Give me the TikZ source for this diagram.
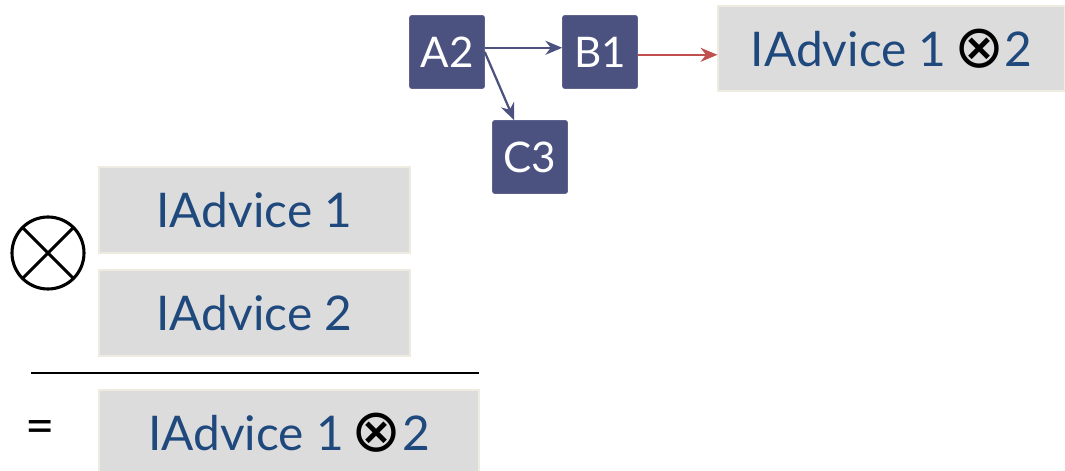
\documentclass[tikz,border=0pt]{standalone}
\usepackage{fontspec}
\setmainfont{Lato}
\newfontfamily\symfont{DejaVu Sans}
\usepackage{xcolor}
\usetikzlibrary{arrows.meta, positioning}
\definecolor{indigo}{HTML}{4B5280}
\definecolor{ladrillo}{HTML}{C0504D}
\definecolor{tinta}{HTML}{1F497D}
\definecolor{gris}{HTML}{DCDCDC}
\definecolor{crema}{HTML}{EEECE1}
\newcommand{\ox}{{\symfont\color{black}\raisebox{-.02em}{\scalebox{1.25}{⊗}}}}
\tikzset{
  every picture/.style={>=Stealth},
  mod/.style={draw=indigo!90, fill=indigo, text=white, rounded corners=1.5pt,
              minimum width=1.875cm, minimum height=1.825cm, font=\fontsize{30}{34}\selectfont},
  adv/.style={draw=crema, line width=1pt, fill=gris, text=tinta, minimum width=7.775cm,
              minimum height=2.15cm, font=\fontsize{34}{38}\selectfont},
  flecha/.style={-{Stealth[length=12pt,width=10pt]}, line width=1.6pt, indigo},
  flechar/.style={-{Stealth[length=12pt,width=10pt]}, line width=1.6pt, ladrillo},
}
\begin{document}
\begin{tikzpicture}
  \useasboundingbox (0,0) rectangle (26.625,11.75);
  % modules
  \node[mod] (A2) at (11.175,10.45) {A2};
  \node[mod] (B1) at (15.0,10.45) {B1};
  \node[mod] (C3) at (13.25,7.825) {C3};
  \node[adv, minimum width=8.675cm, minimum height=2.125cm] (res) at (22.29,10.54) {IAdvice 1\,\ox2};
  \draw[flecha] ([yshift=3pt]A2.east) -- ([yshift=3pt]B1.west);
  \draw[flecha] (A2.east) -- (C3);
  \draw[flechar] ([yshift=-2pt]B1.east) -- ([yshift=-2pt]B1.east -| res.west);
  % composition
  \node[adv] (ad1) at (6.36,6.5) {IAdvice 1};
  \node[adv] (ad2) at (6.36,3.925) {IAdvice 2};
  \draw[line width=2.2pt] (1.2,5.425) circle (0.9cm)
    (1.2,5.425) ++(45:0.9) -- ++(225:1.8)
    (1.2,5.425) ++(135:0.9) -- ++(-45:1.8);
  \draw[line width=1pt] (0.775,2.425) -- (11.975,2.425);
  \node[font=\fontsize{36}{40}\selectfont] (eq) at (1.0,0.95) {=};
  \node[adv, minimum width=9.5cm] (ad12) at (7.225,0.925) {IAdvice 1\,\ox2};
\end{tikzpicture}
\end{document}
